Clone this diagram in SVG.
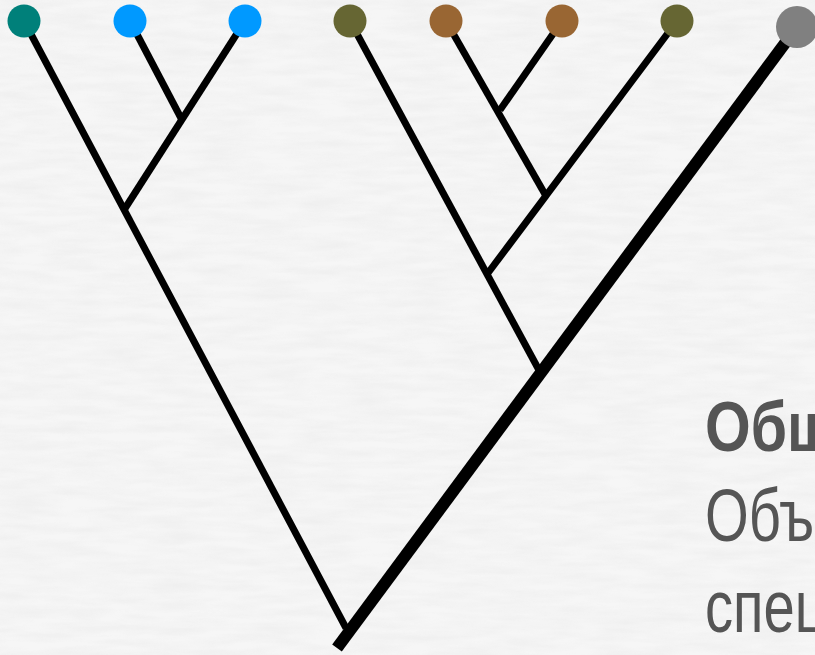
<svg xmlns="http://www.w3.org/2000/svg" width="815" height="655" viewBox="0 0 815 655">
  <defs>
    <filter id="tex" x="0" y="0" width="100%" height="100%">
      <feTurbulence type="fractalNoise" baseFrequency="0.02 0.12" numOctaves="3" seed="4" result="n"/>
      <feColorMatrix in="n" type="matrix" values="0 0 0 0 0.8  0 0 0 0 0.8  0 0 0 0 0.8  0 0 0 -1.2 0.85"/>
    </filter>
  </defs>
  <style>
    .edge { stroke: #000; stroke-width: 7; stroke-linecap: butt; fill: none; }
    .thick { stroke-width: 12; }
    .dot { stroke: none; }
    .t { font-family: "Liberation Sans", Arial, sans-serif; font-size: 74px; fill: #555555; }
    .b { font-weight: bold; font-size: 70px; }
  </style>
  <rect width="815" height="655" fill="#f6f6f6"/>
  <rect width="815" height="655" fill="#000" filter="url(#tex)" opacity="0.6"/>
  <g id="connectors">
    <line class="edge" x1="24" y1="21" x2="346" y2="628"/>
    <line class="edge" x1="130" y1="21" x2="182" y2="120"/>
    <line class="edge" x1="245" y1="21" x2="124" y2="210"/>
    <line class="edge" x1="350" y1="21" x2="540" y2="372"/>
    <line class="edge" x1="446" y1="21" x2="546" y2="196"/>
    <line class="edge" x1="562" y1="21" x2="500" y2="110"/>
    <line class="edge" x1="677" y1="21" x2="488" y2="273"/>
    <line class="edge thick" x1="797" y1="27" x2="337" y2="648"/>
  </g>
  <g id="n1"><circle class="dot" cx="24" cy="21" r="16.5" fill="#00807a"/></g>
  <g id="n2"><circle class="dot" cx="130" cy="21" r="16.5" fill="#0099ff"/></g>
  <g id="n3"><circle class="dot" cx="245" cy="21" r="16.5" fill="#0099ff"/></g>
  <g id="n4"><circle class="dot" cx="350" cy="21" r="16.5" fill="#666633"/></g>
  <g id="n5"><circle class="dot" cx="446" cy="21" r="16.5" fill="#996633"/></g>
  <g id="n6"><circle class="dot" cx="562" cy="21" r="16.5" fill="#996633"/></g>
  <g id="n7"><circle class="dot" cx="677" cy="21" r="16.5" fill="#666633"/></g>
  <g id="n8"><circle class="dot" cx="797" cy="27" r="21" fill="#808080"/></g>
  <g id="label">
    <text class="t b" transform="translate(705 451) scale(0.84 1)">Общ</text>
    <text class="t" transform="translate(705 541) scale(0.76 1)">Объ</text>
    <text class="t" transform="translate(705 632) scale(0.76 1)">спец</text>
  </g>
</svg>
